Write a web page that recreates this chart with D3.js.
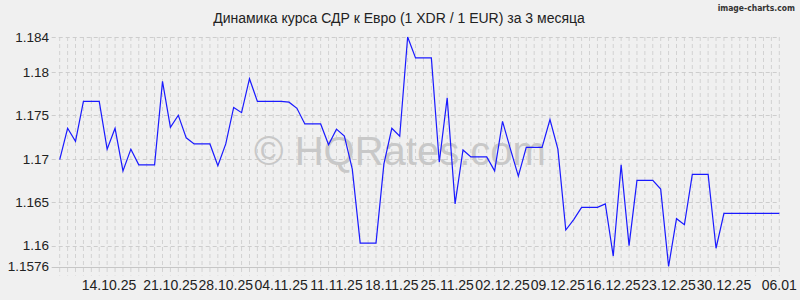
<!DOCTYPE html>
<html>
<head>
<meta charset="utf-8">
<script src="https://cdn.jsdelivr.net/npm/d3@7"></script>
<style>
  html, body { margin: 0; padding: 0; background: #f0f0f0; }
  svg { display: block; }
</style>
</head>
<body>
<svg id="chart" width="800" height="300"></svg>
<script>
// ---- data ----
const startDate = "2025-10-07";
const values = [
  1.1699, 1.1735, 1.1720, 1.1766, 1.1766, 1.1766, 1.1711, 1.1735, 1.1686, 1.1711,
  1.1693, 1.1693, 1.1693, 1.1789, 1.1736, 1.1750, 1.1724, 1.1717, 1.1717, 1.1717,
  1.1692, 1.1717, 1.1759, 1.1753, 1.1792, 1.1766, 1.1766, 1.1766, 1.1766, 1.1765,
  1.1758, 1.1740, 1.1740, 1.1740, 1.1716, 1.1734, 1.1726, 1.1688, 1.1603, 1.1603,
  1.1603, 1.1694, 1.1735, 1.1726, 1.1840, 1.1816, 1.1816, 1.1816, 1.1696, 1.1770,
  1.1648, 1.1710, 1.1702, 1.1702, 1.1702, 1.1686, 1.1743, 1.1711, 1.1680, 1.1713,
  1.1713, 1.1713, 1.1745, 1.1711, 1.1618, 1.1630, 1.1644, 1.1644, 1.1644, 1.1648,
  1.1588, 1.1693, 1.1600, 1.1675, 1.1675, 1.1675, 1.1665, 1.1576, 1.1631, 1.1624,
  1.1682, 1.1682, 1.1682, 1.1597, 1.1637, 1.1637, 1.1637, 1.1637, 1.1637, 1.1637,
  1.1637, 1.1637
];
const yTickValues = [1.1576, 1.16, 1.165, 1.17, 1.175, 1.18, 1.184];
const yTickLabels = ["1.1576", "1.16", "1.165", "1.17", "1.175", "1.18", "1.184"];
const xTickLabels = ["14.10.25", "21.10.25", "28.10.25", "04.11.25", "11.11.25", "18.11.25",
  "25.11.25", "02.12.25", "09.12.25", "16.12.25", "23.12.25", "30.12.25", "06.01"];
const titleText = "Динамика курса СДР к Евро (1 XDR / 1 EUR) за 3 месяца";
const watermarkText = "© HQRates.com";
const brandText = "image-charts.com";

// ---- layout ----
const W = 800, H = 300;
const plot = { left: 59.7, right: 779.3, top: 37, bottom: 266.5 };
const font = "'Liberation Sans', Arial, sans-serif";

const svg = d3.select("#chart");
svg.append("rect").attr("width", W).attr("height", H).attr("fill", "#f0f0f0");

const start = d3.timeParse("%Y-%m-%d")(startDate);
const fmt = d3.timeFormat("%d.%m.%y");
const dateLabels = values.map((_, i) => fmt(d3.timeDay.offset(start, i)));

const x = d3.scaleLinear().domain([0, values.length - 1]).range([plot.left, plot.right]);
const y = d3.scaleLinear().domain([d3.min(yTickValues), d3.max(yTickValues)]).range([plot.bottom, plot.top]);

// vertical grid (one per day)
svg.append("g").selectAll("line").data(d3.range(values.length)).join("line")
  .attr("x1", d => x(d)).attr("x2", d => x(d))
  .attr("y1", plot.top).attr("y2", plot.bottom + 9)
  .attr("stroke", "#d2d2d2").attr("stroke-width", 1)
  .attr("stroke-dasharray", "4,3");

// horizontal grid
svg.append("g").selectAll("line").data(yTickValues).join("line")
  .attr("x1", plot.left - 8).attr("x2", plot.right)
  .attr("y1", d => Math.round(y(d)) + 0.5).attr("y2", d => Math.round(y(d)) + 0.5)
  .attr("stroke", (d, i) => i === 0 ? "#c6c6c6" : "#cdcdcd").attr("stroke-width", 1)
  .attr("stroke-dasharray", (d, i) => i === 0 ? null : "4,3");

// watermark
svg.append("text")
  .attr("x", 400).attr("y", 165)
  .attr("text-anchor", "middle")
  .attr("font-family", font).attr("font-size", 40)
  .attr("fill", "#c8c8c8")
  .text(watermarkText);

// line
const line = d3.line().x((d, i) => x(i)).y(d => y(d));
svg.append("path").datum(values)
  .attr("d", line)
  .attr("fill", "none").attr("stroke", "#1a1aff").attr("stroke-width", 1.2)
  .attr("stroke-linejoin", "miter");

// y labels
svg.append("g").selectAll("text").data(yTickValues).join("text")
  .attr("x", 49).attr("y", d => y(d))
  .attr("dy", "0.36em")
  .attr("text-anchor", "end")
  .attr("font-family", font).attr("font-size", 13.5).attr("fill", "#222")
  .text((d, i) => yTickLabels[i]);

// x labels
const xTicks = xTickLabels.map(l => ({ label: l, idx: dateLabels.findIndex(dl => dl.startsWith(l)) }));
svg.append("g").selectAll("text").data(xTicks).join("text")
  .attr("x", d => x(d.idx)).attr("y", 290)
  .attr("dx", (d, i) => i === 0 ? -6 : 0)
  .attr("text-anchor", "middle")
  .attr("font-family", font).attr("font-size", 14).attr("fill", "#222")
  .text(d => d.label);

// title
svg.append("text")
  .attr("x", 399).attr("y", 23)
  .attr("text-anchor", "middle")
  .attr("font-family", font).attr("font-size", 14).attr("fill", "#222")
  .text(titleText);

// brand
svg.append("text")
  .attr("x", 795).attr("y", 11)
  .attr("text-anchor", "end")
  .attr("font-family", "'DejaVu Sans Condensed', 'DejaVu Sans', sans-serif")
  .attr("font-size", 8.5).attr("font-weight", "bold").attr("fill", "#333")
  .text(brandText);
</script>
</body>
</html>
